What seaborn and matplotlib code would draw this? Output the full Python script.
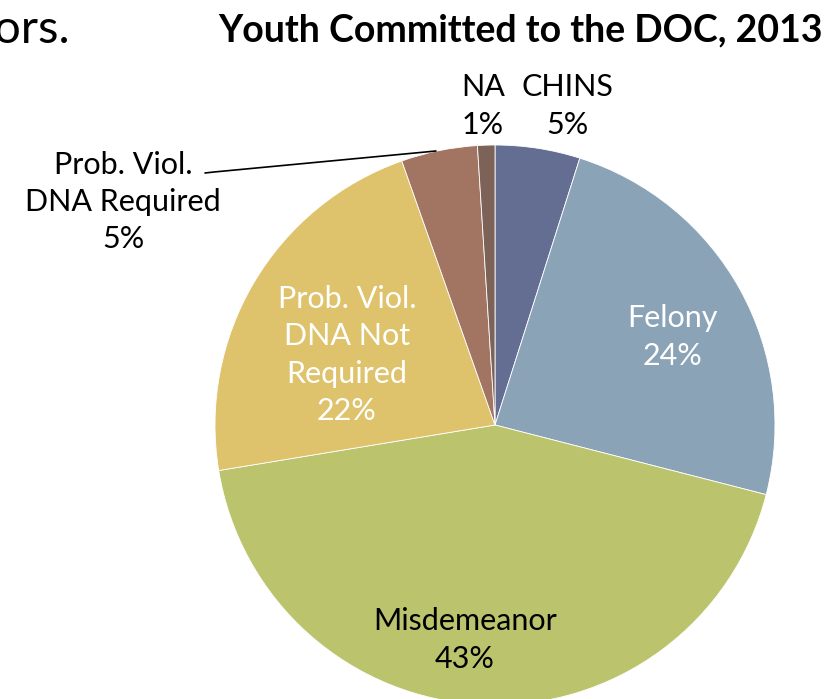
import matplotlib.pyplot as plt
import seaborn as sns

# slice data, clockwise from 12 o'clock
categories = ['CHINS', 'Felony', 'Misdemeanor', 'Prob. Viol.\nDNA Not\nRequired',
              'Prob. Viol.\nDNA Required', 'NA']
values = [4.9, 24.1, 43.4, 22.2, 4.4, 1.0]
pct_labels = ['5%', '24%', '43%', '22%', '5%', '1%']
colors = ['#646e93', '#8ba3b7', '#bbc36c', '#dec36c', '#a27462', '#7d6258']

sns.set_style('white')
plt.rcParams['font.family'] = ['Lato', 'DejaVu Sans']
plt.rcParams['text.color'] = 'black'

fig = plt.figure(figsize=(8.39, 6.99), dpi=100)

# pie in its own axes so the y-flip of the overlay doesn't mirror it
pax = fig.add_axes([(495 - 280) / 839, (699 - 425 - 280) / 699, 560 / 839, 560 / 699])
wedges, _ = pax.pie(values, colors=sns.color_palette(colors), startangle=90,
                    counterclock=False,
                    wedgeprops=dict(edgecolor='white', linewidth=0.6))
pax.set_aspect('equal')
pax.set_xlim(-1, 1)
pax.set_ylim(-1, 1)
pax.axis('off')

# overlay axes in pixel coords for the text, on top of the pie
ax = fig.add_axes([0, 0, 1, 1])
ax.set_xlim(0, 839)
ax.set_ylim(699, 0)
ax.axis('off')
ax.set_zorder(3)
ax.patch.set_visible(False)

label_pos = [(567, 106), (672, 337), (465, 640), (347, 355), (123, 202), (483, 106)]
label_col = ['black', 'white', 'black', 'white', 'black', 'black']
for cat, pct, (x, y), c in zip(categories, pct_labels, label_pos, label_col):
    ax.text(x, y, cat + '\n' + pct, ha='center', va='center', fontsize=22,
            color=c, linespacing=1.4)

# leader line for the small prob. viol. slice
ax.plot([205, 214, 436], [173, 172, 151], color='black', lw=1.2)

ax.text(218, 30, 'Youth Committed to the DOC, 2013', fontsize=27, fontweight='bold',
        ha='left', va='center')
ax.text(-6, 30, 'ors.', fontsize=34, ha='left', va='center')

fig.savefig('out.png', dpi=100)
